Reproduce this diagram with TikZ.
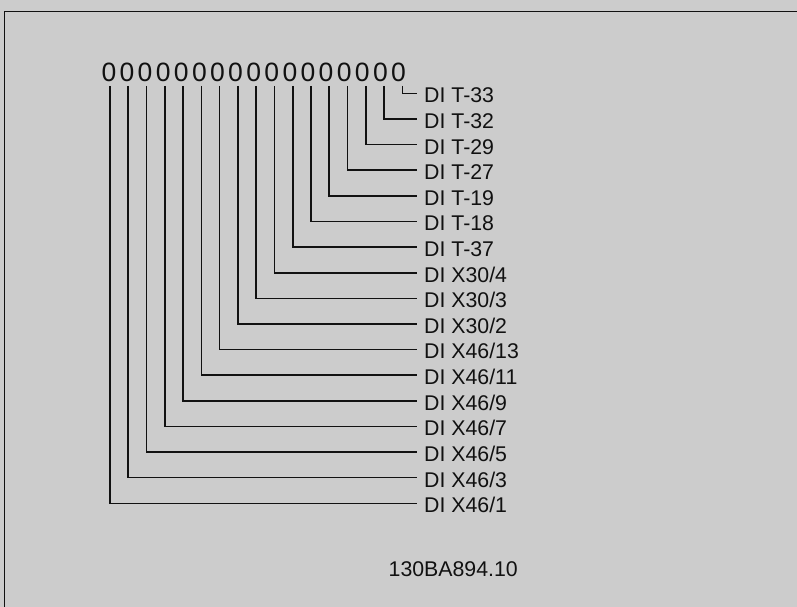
\documentclass[tikz,border=0pt]{standalone}
\usepackage{fontspec}
\setmainfont{Liberation Sans}
\definecolor{bg}{HTML}{CCCCCC}
\definecolor{ink}{HTML}{111111}
\tikzset{
  conn/.style={draw=ink, line width=1.6pt},
  frameline/.style={draw=ink, line width=1.2pt},
  digit/.style={inner sep=0pt, anchor=base, text=ink, font=\fontsize{26.5}{26.5}\selectfont},
  lbl/.style={inner sep=0pt, anchor=base west, text=ink, font=\fontsize{21.3}{21.3}\selectfont},
}
\begin{document}
\begin{tikzpicture}[x=1pt,y=-1pt]
\fill[bg] (0,0) rectangle (797,607);
\useasboundingbox (0,0) rectangle (797,607);
\coordinate (fb) at (4.5,607);
\coordinate (fc) at (4.5,11.7);
\coordinate (fr) at (797,11.7);
\draw[frameline] (fb) -- (fc) -- (fr);
\foreach \i/\t in {0/X46\slash 1,1/X46\slash 3,2/X46\slash 5,3/X46\slash 7,4/X46\slash 9,5/X46\slash 11,6/X46\slash 13,7/X30\slash 2,8/X30\slash 3,9/X30\slash 4,10/T-37,11/T-18,12/T-19,13/T-27,14/T-29,15/T-32,16/T-33}{
  \pgfmathsetmacro{\xx}{110+18.27*\i}
  \pgfmathsetmacro{\yy}{503.3-25.62*\i}
  \pgfmathsetmacro{\zx}{108.9+18.1*\i}
  \node[digit] (z\i) at (\zx,81.5) {0};
  \coordinate (t\i) at (\xx,86);
  \coordinate (e\i) at (417,\yy);
  \node[lbl] (l\i) at (424,\yy+9.4) {DI \t};
  \draw[conn] (t\i) |- (e\i);
}
\node[lbl] (code) at (388.5,576.7) {130BA894.10};
\end{tikzpicture}
\end{document}
